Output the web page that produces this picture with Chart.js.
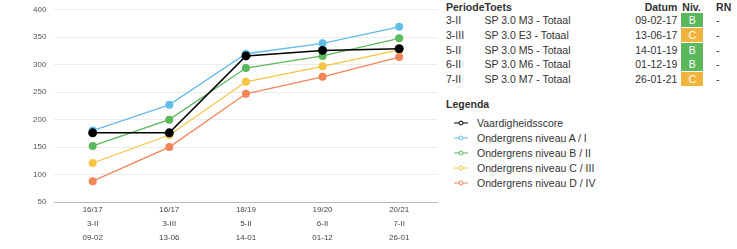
<!DOCTYPE html>
<html>
<head>
<meta charset="utf-8">
<script src="https://cdn.jsdelivr.net/npm/chart.js@4"></script>
<style>
  body { margin: 0; background: #fff; font-family: "Liberation Sans", Arial, sans-serif; color: #333; }
  #wrap { position: absolute; left: 0; top: -3px; width: 442px; height: 252px; }
  #side { position: absolute; left: 446px; top: 0; width: 290px; font-size: 10.5px; }
  table { border-collapse: collapse; table-layout: fixed; }
  th { font-weight: bold; text-align: left; padding: 0; height: 13px; white-space: nowrap; }
  td { padding: 0; height: 14.7px; white-space: nowrap; }
  .badge { color: #fff; text-align: center; width: 22px; height: 14px; line-height: 14px; margin-left: 4px; }
  .legtitle { font-weight: bold; margin: 12px 0 0 0; }
  .legitem { display: flex; align-items: center; height: 15px; margin-left: 8px; }
  .legitem svg { margin-right: 9px; }
</style>
</head>
<body>
<div id="wrap"><canvas id="chart1"></canvas></div>
<div id="side">
  <table id="tests"></table>
  <div class="legtitle">Legenda</div>
  <div id="legend" style="margin-top:5px"></div>
</div>
<script>
const labels = [
  ["16/17", "3-II", "09-02"],
  ["16/17", "3-III", "13-06"],
  ["18/19", "5-II", "14-01"],
  ["19/20", "6-II", "01-12"],
  ["20/21", "7-II", "26-01"],
];

const score = [176, 176, 316, 326, 329];
const nivA = [180, 227, 320, 339, 369];
const nivB = [152, 200, 294, 316, 348];
const nivC = [121, 172, 269, 297, 327];
const nivD = [88, 150, 247, 278, 314];

const seriesNames = ["Vaardigheidsscore", "Ondergrens niveau A / I", "Ondergrens niveau B / II", "Ondergrens niveau C / III", "Ondergrens niveau D / IV"];
const seriesColors = ["#000000", "#62bde8", "#5cb85c", "#f6c445", "#f2845a"];

const periodes = ["3-II", "3-III", "5-II", "6-II", "7-II"];
const toetsen = ["SP 3.0 M3 - Totaal", "SP 3.0 E3 - Totaal", "SP 3.0 M5 - Totaal", "SP 3.0 M6 - Totaal", "SP 3.0 M7 - Totaal"];
const datums = ["09-02-17", "13-06-17", "14-01-19", "01-12-19", "26-01-21"];
const niveaus = ["B", "C", "B", "B", "C"];
const rn = ["-", "-", "-", "-", "-"];

// table
let html = '<colgroup><col style="width:38px"><col style="width:146px"><col style="width:48px"><col style="width:39px"><col style="width:20px"></colgroup>';
html += '<tr><th>Periode</th><th>Toets</th><th style="text-align:right">Datum</th><th style="padding-left:5px">Niv.</th><th>RN</th></tr>';
for (let i = 0; i < periodes.length; i++) {
  const bg = niveaus[i] == "B" ? "#5cb85c" : "#f0b43c";
  html += '<tr><td>' + periodes[i] + '</td><td>' + toetsen[i] + '</td><td style="text-align:right">' + datums[i] +
    '</td><td><div class="badge" style="background:' + bg + '">' + niveaus[i] + '</div></td><td>' + rn[i] + '</td></tr>';
}
document.getElementById("tests").innerHTML = html;

const values = [score, nivA, nivB, nivC, nivD];
const datasets = values.map((v, i) => ({
  label: seriesNames[i],
  data: v,
  borderColor: seriesColors[i],
  backgroundColor: seriesColors[i],
  borderWidth: i == 0 ? 1.6 : 1.3,
  pointRadius: i == 0 ? 4.5 : 4,
  pointBorderWidth: 0,
  tension: 0,
  order: i == 0 ? 0 : 1,
}));

// legend
let leg = "";
seriesNames.forEach((n, i) => {
  leg += '<div class="legitem"><svg width="14" height="6"><line x1="0" y1="3" x2="14" y2="3" stroke="' + seriesColors[i] +
    '" stroke-width="1"/><circle cx="7" cy="3" r="2" fill="#fff" stroke="' + seriesColors[i] + '" stroke-width="1"/></svg>' + n + '</div>';
});
document.getElementById("legend").innerHTML = leg;

const config1 = {
  type: "line",
  data: { labels: labels, datasets: datasets },
  options: {
    responsive: true,
    maintainAspectRatio: false,
    animation: false,
    layout: { padding: { top: 0, right: 0, left: 25, bottom: 3 } },
    plugins: { legend: { display: false }, tooltip: { enabled: false } },
    scales: {
      x: {
        offset: true,
        grid: { display: false, drawTicks: false },
        border: { color: "#bbb", width: 1 },
        ticks: { color: "#444", font: { size: 8, family: "Liberation Sans", lineHeight: 1.75 }, padding: 1, maxRotation: 0 },
      },
      y: {
        min: 50,
        max: 400,
        ticks: { stepSize: 50, color: "#555", font: { size: 8, family: "Liberation Sans" }, padding: 8 },
        grid: { color: "#ececec", drawTicks: false },
        border: { display: false },
      },
    },
  },
};
const chart1 = new Chart(document.getElementById("chart1"), config1);
</script>
</body>
</html>
